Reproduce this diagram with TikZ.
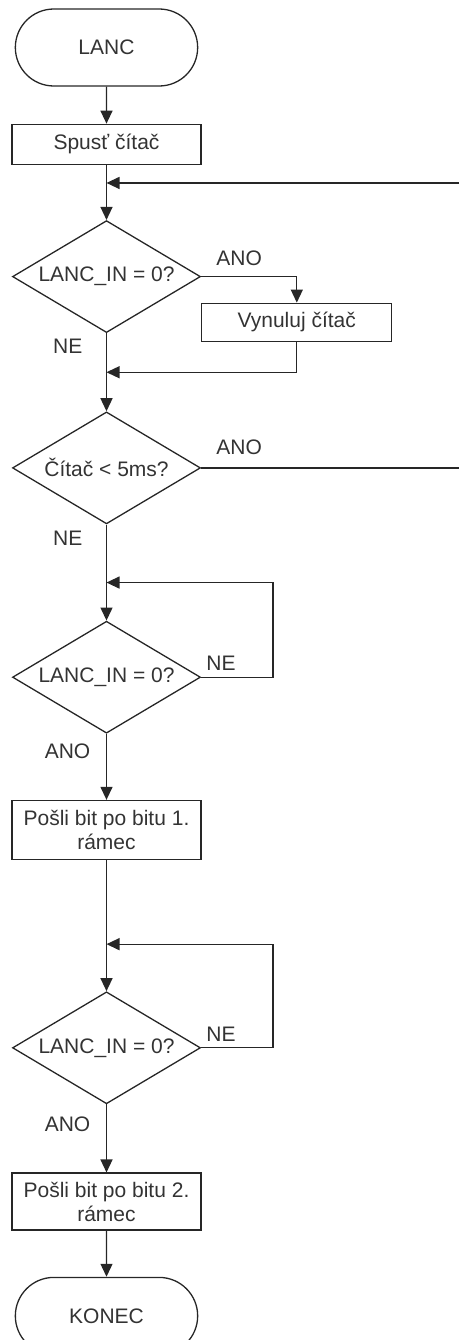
\documentclass[tikz,border=0pt]{standalone}
\usepackage{fontspec}
\setmainfont{Liberation Sans}
\usepackage{xcolor}
\usepackage{tikz}
\usetikzlibrary{arrows.meta, positioning, shapes.geometric, shapes.misc}

\begin{document}
\begin{tikzpicture}[
  x=1pt, y=1pt,
  term/.style={
    rounded rectangle, draw=black!85, line width=1.3pt,
    minimum width=189pt, minimum height=77pt,
    font=\fontsize{21}{24}\selectfont, text=black!80},
  proc/.style={
    rectangle, draw=black!85, line width=1.3pt,
    minimum width=189pt, align=center, inner sep=0pt,
    font=\fontsize{21}{24}\selectfont, text=black!80},
  dec/.style={
    diamond, aspect=1.68, draw=black!85, line width=1.3pt,
    minimum width=188pt, minimum height=112pt, inner sep=0pt,
    font=\fontsize{21}{24}\selectfont, text=black!80},
  lbl/.style={inner sep=0pt, font=\fontsize{21}{24}\selectfont, text=black!80},
  lin/.style={line width=1.3pt, draw=black!85},
  arr/.style={-{Triangle[length=13pt,width=12pt]}, line width=1.3pt, draw=black!85}
]

\useasboundingbox (0,0) rectangle (459,-1340);

%% Main flow nodes
\node[term] (start) at (106.5,-47.5) {LANC};
\node[proc, minimum height=40pt, below=37pt of start] (spust) {Spusť čítač};
\node[dec, below=55pt of spust] (inzero) {LANC\_IN = 0?};
\node[proc, minimum width=190pt, minimum height=38pt,
      below right=26pt and 0pt of inzero.east] (vynul) {Vynuluj čítač};
\node[dec, below=78pt of inzero] (cas) {Čítač < 5ms?};
\node[dec, below=96pt of cas] (wait1) {LANC\_IN = 0?};
\node[proc, minimum height=59pt, below=66pt of wait1] (send1) {Pošli bit po bitu 1.\\rámec};
\node[dec, below=131pt of send1] (wait2) {LANC\_IN = 0?};
\node[proc, minimum height=57pt, below=68pt of wait2] (send2) {Pošli bit po bitu 2.\\rámec};
\node[term, below=46pt of send2] (stop) {KONEC};

%% Join points
\coordinate (redge) at (459,0);
\coordinate (rloop) at (273,0);
\coordinate[below=18pt of spust] (m1);
\coordinate[below=39pt of inzero.south] (m2);
\coordinate[above=38pt of wait1.north] (m3);
\coordinate[above=47pt of wait2.north] (m4);

%% Arrows
\draw[arr] (start) -- (spust);
\draw[arr] (spust) -- (inzero);
\draw[arr] (inzero.east) -| (vynul.north);
\draw[arr] (vynul.south) |- (m2);
\draw[arr] (inzero) -- (cas);
\draw[lin] (cas.east) -- (cas.east -| redge);
\draw[arr] (m1 -| redge) -- (m1);
\draw[arr] (cas) -- (wait1);
\draw[arr] (wait1.east) -- (wait1.east -| rloop) |- (m3);
\draw[arr] (wait1) -- (send1);
\draw[arr] (send1) -- (wait2);
\draw[arr] (wait2.east) -- (wait2.east -| rloop) |- (m4);
\draw[arr] (wait2) -- (send2);
\draw[arr] (send2) -- (stop);

%% Branch labels
\node[lbl, above right=11pt and 15pt of inzero.east] {ANO};
\node[lbl, below left=6pt and 24pt of inzero.south] {NE};
\node[lbl, above right=13pt and 15pt of cas.east] {ANO};
\node[lbl, below left=6pt and 24pt of cas.south] {NE};
\node[lbl, above right=7pt and 5pt of wait1.east] {NE};
\node[lbl, below left=10pt and 16pt of wait1.south] {ANO};
\node[lbl, above right=6pt and 5pt of wait2.east] {NE};
\node[lbl, below left=12pt and 16pt of wait2.south] {ANO};

\end{tikzpicture}
\end{document}
